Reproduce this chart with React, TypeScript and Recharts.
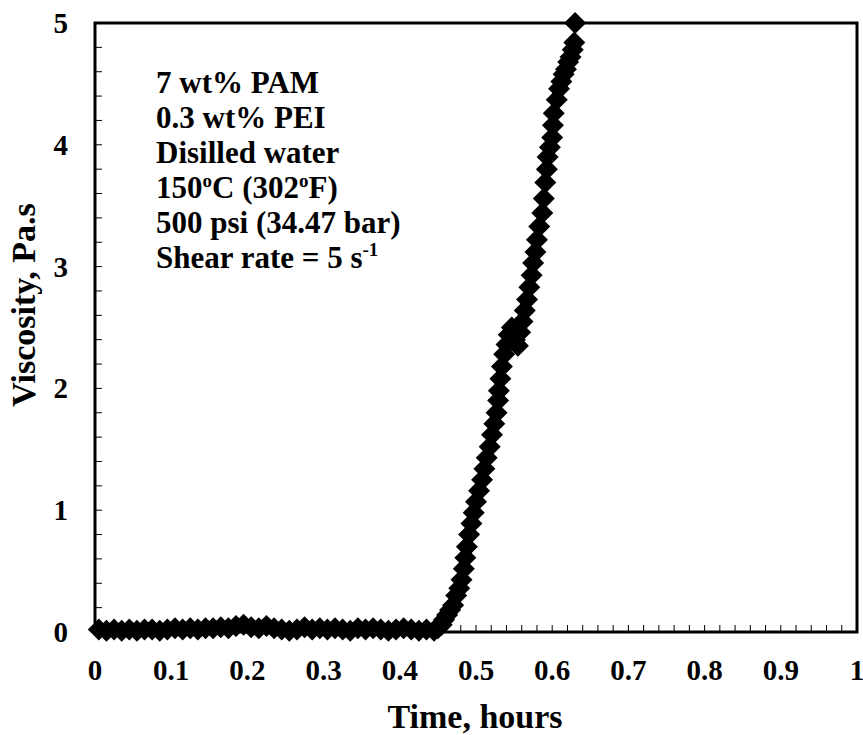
import React from 'react';
import { ScatterChart, Scatter, XAxis, YAxis, ReferenceArea } from 'recharts';

// tiempo (h) y viscosidad (Pa.s)
const tiempoPlano = [
  0.005, 0.015, 0.025, 0.035, 0.045, 0.055, 0.065, 0.075, 0.085, 0.095,
  0.105, 0.115, 0.125, 0.135, 0.145, 0.155, 0.165, 0.175, 0.185, 0.195,
  0.205, 0.215, 0.225, 0.235, 0.245, 0.255, 0.265, 0.275, 0.285, 0.295,
  0.305, 0.315, 0.325, 0.335, 0.345, 0.355, 0.365, 0.375, 0.385, 0.395,
  0.405, 0.415, 0.425, 0.435, 0.445,
];
const viscosidadPlano = [
  0.02, 0.01, 0.02, 0.01, 0.02, 0.01, 0.02, 0.02, 0.01, 0.02,
  0.03, 0.02, 0.03, 0.02, 0.03, 0.03, 0.04, 0.03, 0.05, 0.06,
  0.04, 0.03, 0.05, 0.03, 0.02, 0.01, 0.02, 0.04, 0.02, 0.03,
  0.02, 0.03, 0.02, 0.01, 0.03, 0.02, 0.03, 0.02, 0.01, 0.02,
  0.03, 0.02, 0.01, 0.02, 0.01,
];

const tiempoSubida = [
  0.450, 0.455, 0.458, 0.462, 0.466, 0.470, 0.474, 0.478, 0.481, 0.484,
  0.486, 0.488, 0.491, 0.494, 0.497, 0.500, 0.504, 0.508, 0.511, 0.514,
  0.518, 0.521, 0.524, 0.527, 0.529, 0.530, 0.532, 0.534, 0.537, 0.540,
  0.543, 0.547, 0.551, 0.555, 0.558, 0.561, 0.564, 0.567, 0.570, 0.573,
  0.575, 0.578, 0.580, 0.583, 0.587, 0.589, 0.591, 0.593, 0.594, 0.597,
  0.600, 0.601, 0.602, 0.606, 0.609, 0.612, 0.615, 0.618, 0.621, 0.624,
  0.627, 0.629, 0.630,
];
const viscosidadSubida = [
  0.03, 0.06, 0.10, 0.14, 0.18, 0.22, 0.30, 0.36, 0.43, 0.52,
  0.61, 0.70, 0.80, 0.89, 0.98, 1.07, 1.16, 1.25, 1.34, 1.43,
  1.52, 1.62, 1.71, 1.80, 1.90, 1.98, 2.08, 2.18, 2.28, 2.36,
  2.44, 2.50, 2.40, 2.35, 2.46, 2.55, 2.64, 2.73, 2.83, 2.93,
  3.03, 3.12, 3.22, 3.33, 3.44, 3.56, 3.69, 3.80, 3.90, 3.98,
  4.06, 4.16, 4.26, 4.37, 4.46, 4.52, 4.58, 4.62, 4.68, 4.72,
  4.78, 4.84, 5.00,
];

const ticksX = [0, 0.1, 0.2, 0.3, 0.4, 0.5, 0.6, 0.7, 0.8, 0.9, 1];
const ticksY = [0, 1, 2, 3, 4, 5];
const ticksMenoresX = [
  0.02, 0.04, 0.06, 0.08, 0.1, 0.12, 0.14, 0.16, 0.18, 0.2,
  0.22, 0.24, 0.26, 0.28, 0.3, 0.32, 0.34, 0.36, 0.38, 0.4,
  0.42, 0.44, 0.46, 0.48, 0.5, 0.52, 0.54, 0.56, 0.58, 0.6,
  0.62, 0.64, 0.66, 0.68, 0.7, 0.72, 0.74, 0.76, 0.78, 0.8,
  0.82, 0.84, 0.86, 0.88, 0.9, 0.92, 0.94, 0.96, 0.98,
];
const ticksMenoresY = [
  0.2, 0.4, 0.6, 0.8, 1, 1.2, 1.4, 1.6, 1.8, 2, 2.2, 2.4,
  2.6, 2.8, 3, 3.2, 3.4, 3.6, 3.8, 4, 4.2, 4.4, 4.6, 4.8,
];

const datos = [
  ...tiempoPlano.map((t, i) => ({ t, v: viscosidadPlano[i] })),
  ...tiempoSubida.map((t, i) => ({ t, v: viscosidadSubida[i] })),
];

const fuente = "'Liberation Serif', 'Times New Roman', serif";

const Rombo = (props: any) => {
  const { cx, cy } = props;
  const r = 11;
  return <path d={`M${cx},${cy - r}L${cx + r},${cy}L${cx},${cy + r}L${cx - r},${cy}Z`} fill="#000" />;
};

const Nada = () => <g />;

const TickX = (props: any) => {
  const { x, y, payload } = props;
  return (
    <text x={x} y={y + 48} textAnchor="middle" fontFamily={fuente} fontWeight={700} fontSize={29} fill="#000">
      {payload.value}
    </text>
  );
};

const TickY = (props: any) => {
  const { x, y, payload } = props;
  return (
    <text x={x - 27} y={y + 10} textAnchor="end" fontFamily={fuente} fontWeight={700} fontSize={29} fill="#000">
      {payload.value}
    </text>
  );
};

const App: React.FC = () => {
  return (
    <div style={{ position: 'absolute', left: 0, top: 0, width: 863, height: 735, background: '#fff' }}>
      <ScatterChart width={863} height={735} margin={{ top: 23, right: 6, left: 0, bottom: 0 }}>
        <XAxis
          dataKey="t"
          type="number"
          domain={[0, 1]}
          ticks={ticksX}
          interval={0}
          height={103}
          axisLine={false}
          tickLine={false}
          tickSize={0}
          tickMargin={0}
          tick={<TickX />}
        />
        <XAxis
          xAxisId="menor"
          dataKey="t"
          type="number"
          domain={[0, 1]}
          ticks={ticksMenoresX}
          interval={0}
          mirror
          axisLine={false}
          tickSize={7}
          tick={<Nada />}
          tickLine={{ stroke: '#000', strokeWidth: 1 }}
        />
        <YAxis
          dataKey="v"
          type="number"
          domain={[0, 5]}
          ticks={ticksY}
          interval={0}
          width={95}
          axisLine={false}
          tickLine={false}
          tickSize={0}
          tickMargin={0}
          tick={<TickY />}
        />
        <YAxis
          yAxisId="menor"
          dataKey="v"
          type="number"
          domain={[0, 5]}
          ticks={ticksMenoresY}
          interval={0}
          mirror
          axisLine={false}
          tickSize={7}
          tick={<Nada />}
          tickLine={{ stroke: '#000', strokeWidth: 1 }}
        />
        <ReferenceArea x1={0} x2={1} y1={0} y2={5} fill="none" stroke="#000" strokeWidth={3} />
        <Scatter
          data={datos}
          xAxisId="menor"
          yAxisId="menor"
          shape={Nada}
          isAnimationActive={false}
        />
        <Scatter data={datos} shape={Rombo} isAnimationActive={false} />
      </ScatterChart>
      <svg
        width={863}
        height={735}
        style={{ position: 'absolute', left: 0, top: 0, pointerEvents: 'none' }}
        fontFamily={fuente}
        fontWeight={700}
      >
        <text x={475} y={728} textAnchor="middle" fontSize={34}>Time,  hours</text>
        <text x={35} y={305} textAnchor="middle" fontSize={34} transform="rotate(-90 35 305)">
          Viscosity,  Pa.s
        </text>
        <g fontSize={31}>
          <text x={156} y={93}>7 wt% PAM</text>
          <text x={156} y={128}>0.3 wt%  PEI</text>
          <text x={156} y={163}>Disilled water</text>
          <text x={156} y={198}>
            150<tspan dy={-11} fontSize={19}>o</tspan>
            <tspan dy={11}>C (302</tspan>
            <tspan dy={-11} fontSize={19}>o</tspan>
            <tspan dy={11}>F)</tspan>
          </text>
          <text x={156} y={233}>500 psi (34.47 bar)</text>
          <text x={156} y={268}>
            Shear rate = 5 s<tspan dy={-12} fontSize={19}>-1</tspan>
          </text>
        </g>
      </svg>
    </div>
  );
};

export default App;
